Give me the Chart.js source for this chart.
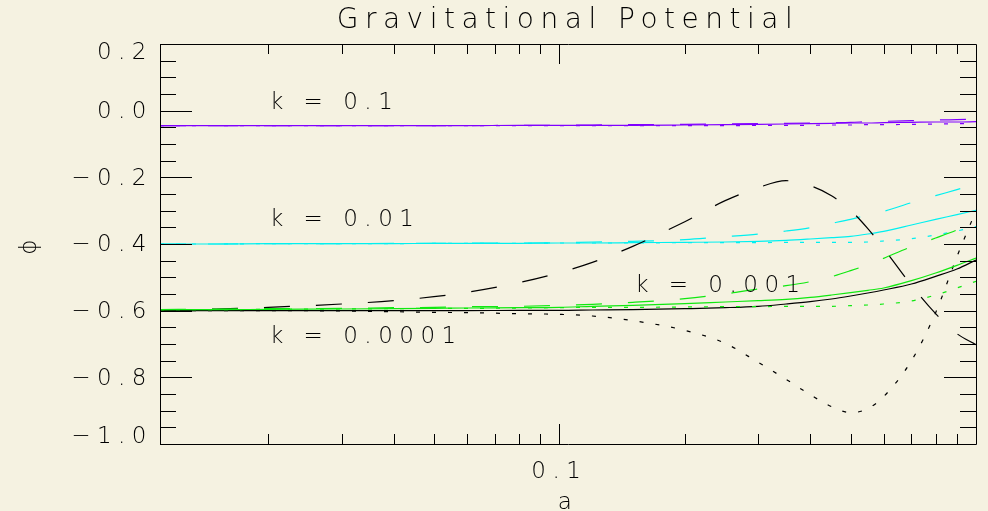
<!DOCTYPE html>
<html lang="en">
<head>
  <meta charset="UTF-8">
  <title>Gravitational Potential</title>
  <script src="https://cdn.jsdelivr.net/npm/chart.js"></script>
  <style>
    body {
      margin: 0;
      background: #f5f2e1;
    }
    canvas {
      display: block;
    }
  </style>
</head>
<body>
  <canvas id="potentialChart" width="988" height="511"></canvas>

  <script>
    // scale factor a (x axis, log)
    const A = [0.011, 0.015, 0.02, 0.03, 0.04, 0.05, 0.06, 0.08, 0.1, 0.12, 0.15, 0.2,
               0.25, 0.3, 0.35, 0.4, 0.45, 0.5, 0.55, 0.6, 0.7, 0.8, 0.9, 1.0];

    // k = 0.1 (purple)
    const k1Solid  = [-0.045,-0.045,-0.045,-0.045,-0.045,-0.045,-0.045,-0.044,-0.044,-0.044,-0.044,-0.043,-0.042,-0.041,-0.040,-0.039,-0.038,-0.037,-0.037,-0.036,-0.035,-0.034,-0.034,-0.033];
    const k1Dashed = [-0.045,-0.045,-0.045,-0.045,-0.045,-0.045,-0.045,-0.044,-0.044,-0.043,-0.042,-0.041,-0.040,-0.039,-0.038,-0.037,-0.036,-0.035,-0.033,-0.032,-0.030,-0.028,-0.027,-0.025];
    const k1Dotted = [-0.045,-0.045,-0.045,-0.045,-0.045,-0.045,-0.045,-0.045,-0.045,-0.045,-0.045,-0.045,-0.045,-0.044,-0.044,-0.044,-0.043,-0.043,-0.042,-0.042,-0.041,-0.040,-0.039,-0.038];

    // k = 0.01 (cyan)
    const k2Solid  = [-0.400,-0.400,-0.399,-0.399,-0.399,-0.398,-0.398,-0.398,-0.397,-0.397,-0.396,-0.395,-0.394,-0.392,-0.389,-0.385,-0.381,-0.377,-0.370,-0.362,-0.343,-0.326,-0.312,-0.299];
    const k2Dashed = [-0.400,-0.400,-0.399,-0.399,-0.398,-0.398,-0.397,-0.397,-0.396,-0.394,-0.392,-0.387,-0.378,-0.370,-0.361,-0.351,-0.338,-0.326,-0.313,-0.302,-0.276,-0.255,-0.237,-0.220];
    const k2Dotted = [-0.400,-0.400,-0.399,-0.399,-0.399,-0.398,-0.398,-0.398,-0.397,-0.397,-0.397,-0.396,-0.396,-0.396,-0.395,-0.395,-0.395,-0.395,-0.394,-0.391,-0.384,-0.373,-0.361,-0.348];

    // k = 0.001 (green)
    const k3Solid  = [-0.597,-0.597,-0.596,-0.595,-0.594,-0.593,-0.592,-0.591,-0.590,-0.587,-0.584,-0.579,-0.574,-0.570,-0.566,-0.560,-0.553,-0.546,-0.539,-0.532,-0.510,-0.487,-0.464,-0.442];
    const k3Dashed = [-0.597,-0.595,-0.594,-0.593,-0.591,-0.590,-0.588,-0.587,-0.584,-0.581,-0.575,-0.564,-0.550,-0.535,-0.525,-0.513,-0.498,-0.480,-0.462,-0.443,-0.408,-0.382,-0.358,-0.333];
    const k3Dotted = [-0.597,-0.597,-0.596,-0.595,-0.594,-0.593,-0.593,-0.592,-0.591,-0.590,-0.590,-0.589,-0.588,-0.588,-0.587,-0.587,-0.587,-0.585,-0.583,-0.580,-0.571,-0.553,-0.532,-0.512];

    // k = 0.0001 (black)
    const k4Solid  = [-0.600,-0.600,-0.600,-0.600,-0.600,-0.600,-0.600,-0.599,-0.599,-0.598,-0.597,-0.594,-0.591,-0.587,-0.580,-0.573,-0.565,-0.556,-0.547,-0.538,-0.520,-0.497,-0.475,-0.448];
    const k4Dashed = [-0.600,-0.595,-0.590,-0.580,-0.570,-0.558,-0.545,-0.516,-0.486,-0.455,-0.407,-0.333,-0.270,-0.231,-0.210,-0.225,-0.255,-0.299,-0.354,-0.413,-0.524,-0.609,-0.669,-0.702];
    const k4Dotted = [-0.600,-0.600,-0.600,-0.601,-0.603,-0.605,-0.606,-0.609,-0.611,-0.616,-0.630,-0.659,-0.698,-0.755,-0.806,-0.852,-0.888,-0.906,-0.894,-0.858,-0.750,-0.606,-0.438,-0.300];

    // axes
    const X_MIN = 0.011, X_MAX = 1.0;
    const Y_MIN = -1.0, Y_MAX = 0.2;
    const X_LABELS = [0.1];
    const X_MINOR = [0.02, 0.03, 0.04, 0.05, 0.06, 0.07, 0.08, 0.09, 0.2, 0.3, 0.4, 0.5, 0.6, 0.7, 0.8, 0.9];
    const Y_LABELS = [0.2, 0.0, -0.2, -0.4, -0.6, -0.8, -1.0];
    const Y_MINOR = [0.15, 0.1, 0.05, -0.05, -0.1, -0.15, -0.25, -0.3, -0.35, -0.45, -0.5, -0.55,
                     -0.65, -0.7, -0.75, -0.85, -0.9, -0.95];

    // curve labels: text, a, phi
    const K_TEXT = ['k = 0.1', 'k = 0.01', 'k = 0.001', 'k = 0.0001'];
    const K_A    = [0.0202, 0.0202, 0.152, 0.0202];
    const K_PHI  = [0.022, -0.327, -0.525, -0.678];

    const FONT = "'DejaVu Sans', sans-serif";
    const WEIGHT = 200;
    const SPACING = '6.5px';

    const SOLID = [], DASHED = [26, 26], DOTTED = [4, 12];

    function line(values, color, dash) {
      return {
        data: A.map((a, i) => ({ x: a, y: values[i] })),
        borderColor: color,
        borderWidth: 1.2,
        borderDash: dash,
        pointRadius: 0,
        cubicInterpolationMode: 'monotone',
        fill: false
      };
    }

    function fmtPhi(v) {
      const r = Math.round(v * 10) / 10;
      return (r < 0 ? '\u2212' : '') + Math.abs(r).toFixed(1);
    }

    // IDL style frame: inward ticks on all four sides + curve labels
    const idlFrame = {
      id: 'idlFrame',
      beforeDraw(chart) {
        chart.ctx.letterSpacing = SPACING;
      },
      afterDraw(chart) {
        const { ctx, chartArea: { left, right, top, bottom }, scales: { x, y } } = chart;
        const px = v => Math.round(v) + 0.5;
        ctx.save();
        ctx.strokeStyle = '#000';
        ctx.lineWidth = 1;
        ctx.beginPath();
        ctx.rect(px(left), px(top), Math.round(right - left), Math.round(bottom - top));
        X_LABELS.concat(X_MINOR).forEach(v => {
          const len = X_LABELS.includes(v) ? 20 : 10;
          const xp = px(x.getPixelForValue(v));
          ctx.moveTo(xp, bottom); ctx.lineTo(xp, bottom - len);
          ctx.moveTo(xp, top); ctx.lineTo(xp, top + len);
        });
        Y_LABELS.concat(Y_MINOR).forEach(v => {
          const len = Y_LABELS.includes(v) ? 32 : 16;
          const yp = px(y.getPixelForValue(v));
          ctx.moveTo(left, yp); ctx.lineTo(left + len, yp);
          ctx.moveTo(right, yp); ctx.lineTo(right - len, yp);
        });
        ctx.stroke();

        ctx.fillStyle = '#000';
        ctx.font = WEIGHT + ' 23px ' + FONT;
        ctx.letterSpacing = SPACING;
        ctx.textAlign = 'left';
        ctx.textBaseline = 'middle';
        K_TEXT.forEach((t, i) => {
          ctx.fillText(t, x.getPixelForValue(K_A[i]), y.getPixelForValue(K_PHI[i]));
        });
        ctx.restore();
      }
    };

    const ctx = document.getElementById('potentialChart').getContext('2d');

    new Chart(ctx, {
      type: 'line',
      data: {
        datasets: [
          line(k3Solid, '#10e810', SOLID),
          line(k3Dashed, '#10e810', DASHED),
          line(k3Dotted, '#10e810', DOTTED),
          line(k4Solid, '#000000', SOLID),
          line(k4Dashed, '#000000', DASHED),
          line(k4Dotted, '#000000', DOTTED),
          line(k2Solid, '#00f0f0', SOLID),
          line(k2Dashed, '#00f0f0', DASHED),
          line(k2Dotted, '#00f0f0', DOTTED),
          line(k1Solid, '#8000ff', SOLID),
          line(k1Dashed, '#8000ff', DASHED),
          line(k1Dotted, '#8000ff', DOTTED)
        ]
      },
      options: {
        responsive: false,
        animation: false,
        events: [],
        layout: { padding: { left: 0, right: 12, top: 0, bottom: 0 } },
        plugins: {
          legend: { display: false },
          tooltip: { enabled: false },
          title: {
            display: true,
            fullSize: false,
            text: 'Gravitational Potential',
            color: '#000',
            font: { family: FONT, size: 28, weight: WEIGHT },
            padding: { top: 4, bottom: 6.4 }
          }
        },
        scales: {
          x: {
            type: 'logarithmic',
            min: X_MIN,
            max: X_MAX,
            grid: { display: false, drawTicks: false },
            border: { display: false },
            afterBuildTicks: s => { s.ticks = X_LABELS.map(v => ({ value: v })); },
            afterFit: s => { s.height = 67; },
            ticks: {
              autoSkip: false,
              maxRotation: 0,
              padding: 14,
              color: '#000',
              font: { family: FONT, size: 23, weight: WEIGHT },
              callback: v => String(v)
            },
            title: {
              display: true,
              text: 'a',
              color: '#000',
              font: { family: FONT, size: 23, weight: WEIGHT, lineHeight: '16px' },
              padding: { top: 0, bottom: 0 }
            }
          },
          y: {
            min: Y_MIN,
            max: Y_MAX,
            grid: { display: false, drawTicks: false },
            border: { display: false },
            afterBuildTicks: s => { s.ticks = Y_LABELS.map(v => ({ value: v })); },
            afterFit: s => { s.width = 160; },
            ticks: {
              padding: 7,
              labelOffset: 1.5,
              color: '#000',
              font: { family: FONT, size: 23, weight: WEIGHT, lineHeight: '16px' },
              callback: v => {
                const s = fmtPhi(v);
                if (Math.abs(v - Y_MAX) < 1e-9) return ['', s];
                if (Math.abs(v - Y_MIN) < 1e-9) return [s, ''];
                return s;
              }
            },
            title: {
              display: true,
              text: '\u03d5',
              color: '#000',
              font: { family: FONT, size: 23, weight: WEIGHT },
              padding: { top: 16, bottom: 0 }
            }
          }
        }
      },
      plugins: [idlFrame]
    });
  </script>
</body>
</html>
